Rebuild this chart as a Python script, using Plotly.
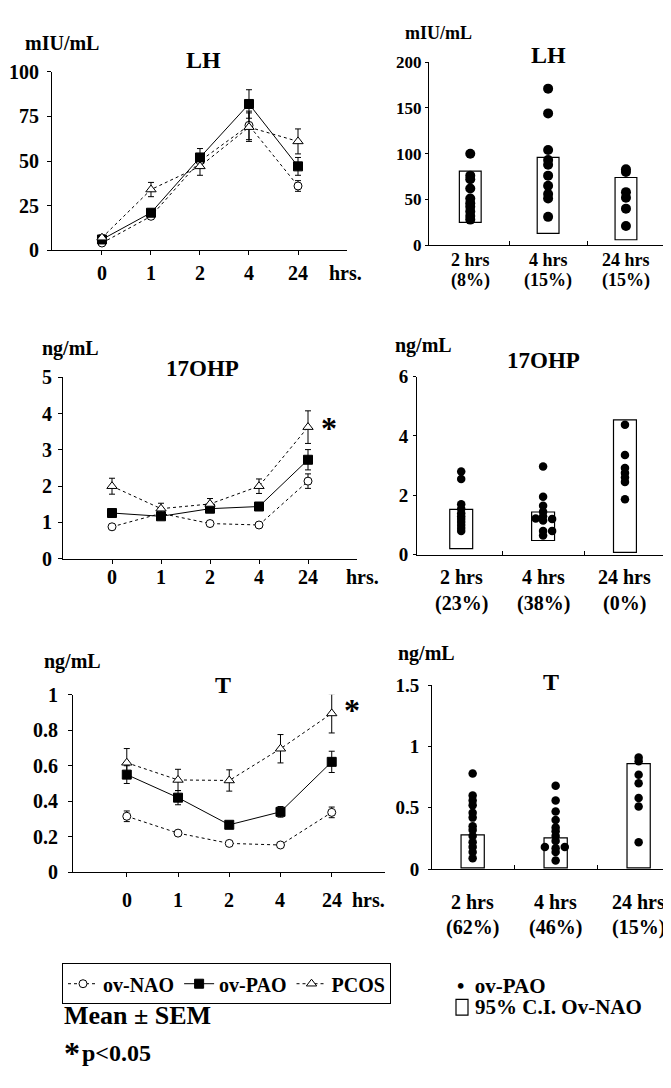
import plotly.graph_objects as go

# page is 671x1088; the html body keeps a default 8px margin, so the figure
# itself is drawn slightly smaller and all layout pixels are offset by 8
PAGE_OFF = 8
W, H = 663, 1072
FONT = "Liberation Serif"

# ---------------- data ----------------
times = ["0", "1", "2", "4", "24"]
groups = ["ov-NAO", "ov-PAO", "PCOS"]

lh_nao = [4, 19, 50, 70, 36]
lh_nao_sem = [1, 1.5, 4, 8, 3]
lh_pao = [6, 21, 52, 82, 47]
lh_pao_sem = [1.5, 2, 5, 8, 5]
lh_pcos = [7, 34, 47, 69, 61]
lh_pcos_sem = [1.5, 4, 5, 8, 7]

ohp_nao = [0.88, 1.25, 0.97, 0.93, 2.14]
ohp_nao_sem = [0.05, 0.08, 0.05, 0.05, 0.2]
ohp_pao = [1.26, 1.17, 1.38, 1.44, 2.73]
ohp_pao_sem = [0.08, 0.08, 0.08, 0.1, 0.28]
ohp_pcos = [2.0, 1.38, 1.51, 2.0, 3.63]
ohp_pcos_sem = [0.22, 0.15, 0.15, 0.2, 0.45]

t_nao = [0.315, 0.22, 0.162, 0.153, 0.337]
t_nao_sem = [0.03, 0.01, 0.01, 0.01, 0.03]
t_pao = [0.55, 0.42, 0.267, 0.34, 0.622]
t_pao_sem = [0.05, 0.04, 0.015, 0.03, 0.06]
t_pcos = [0.617, 0.52, 0.517, 0.696, 0.895]
t_pcos_sem = [0.08, 0.06, 0.06, 0.08, 0.11]

windows = ["2 hrs", "4 hrs", "24 hrs"]
lh_pct = ["(8%)", "(15%)", "(15%)"]
ohp_pct = ["(23%)", "(38%)", "(0%)"]
t_pct = ["(62%)", "(46%)", "(15%)"]

lh_ci_low = [25, 13, 6]
lh_ci_high = [81, 96, 74]
ohp_ci_low = [0.21, 0.48, 0.08]
ohp_ci_high = [1.53, 1.44, 4.54]
t_ci_low = [0.01, 0.01, 0.01]
t_ci_high = [0.28, 0.255, 0.86]

lh_pao_2h = [100, 76, 72, 62, 51, 46, 42, 37, 32, 28]
lh_pao_4h = [171, 144, 104, 93, 88, 76, 65, 56, 51, 31]
lh_pao_24h = [83, 80, 58, 52, 40, 21]
ohp_pao_2h = [2.8, 2.55, 1.7, 1.55, 1.4, 1.3, 1.2, 1.1, 1.0, 0.9, 0.8]
ohp_pao_4h = [2.97, 1.95, 1.65, 1.45, 1.3, 1.22, 1.15, 1.2, 0.8, 0.8, 0.65]
ohp_pao_24h = [4.38, 3.36, 2.92, 2.75, 2.6, 2.45, 1.87]
t_pao_2h = [0.78, 0.6, 0.56, 0.52, 0.46, 0.42, 0.35, 0.32, 0.27, 0.22, 0.18, 0.14, 0.09]
t_pao_4h = [0.68, 0.56, 0.47, 0.40, 0.34, 0.31, 0.27, 0.23, 0.18, 0.18, 0.17, 0.14, 0.07]
t_pao_24h = [0.91, 0.88, 0.77, 0.70, 0.58, 0.51, 0.22]

# small horizontal spread for overlapping dots (style only)
ohp_4h_spread = [0, 0, 0, 0, 0, -0.09, 0, 0.11, 0, 0.11, 0]
t_4h_spread = [0, 0, 0, 0, 0, 0, 0, 0, -0.13, 0.11, 0, 0, 0]


# ---------------- helpers ----------------
def fx(p):
    return (p - PAGE_OFF) / W


def fy(p):
    return 1 - (p - PAGE_OFF) / H


def tfont(size, weight="bold"):
    return dict(family=FONT, size=size, color="black", weight=weight)


fig = go.Figure()

styles = {
    "ov-NAO": dict(line=dict(color="black", width=1, dash="dot"),
                   marker=dict(symbol="circle", size=8, color="white",
                               line=dict(color="black", width=1))),
    "ov-PAO": dict(line=dict(color="black", width=1),
                   marker=dict(symbol="square", size=9, color="black",
                               line=dict(color="black", width=1))),
    "PCOS": dict(line=dict(color="black", width=1, dash="dot"),
                 marker=dict(symbol="triangle-up", size=9, color="white",
                             line=dict(color="black", width=1))),
}


def add_time_course(ax, series, show):
    xa = "x" if ax == 1 else f"x{ax}"
    ya = "y" if ax == 1 else f"y{ax}"
    for name, vals, sem in series:
        st = styles[name]
        fig.add_trace(go.Scatter(
            x=list(range(len(times))), y=vals, name=name, mode="lines+markers",
            line=st["line"], marker=st["marker"],
            error_y=dict(type="data", array=sem, color="black", thickness=1, width=3),
            xaxis=xa, yaxis=ya, showlegend=show,
        ))


def add_scatter_panel(ax, lows, highs, dots, spreads, dot_size):
    xa = f"x{ax}"
    ya = f"y{ax}"
    fig.add_trace(go.Bar(
        x=list(range(len(windows))), y=[h - l for l, h in zip(lows, highs)], base=lows,
        width=0.28, marker=dict(color="white", line=dict(color="black", width=1.2)),
        xaxis=xa, yaxis=ya, showlegend=False,
    ))
    for i, vals in enumerate(dots):
        sp = spreads[i] if spreads[i] is not None else [0] * len(vals)
        fig.add_trace(go.Scatter(
            x=[i + s for s in sp], y=vals, mode="markers",
            marker=dict(color="black", size=dot_size),
            xaxis=xa, yaxis=ya, showlegend=False,
        ))


add_time_course(1, [("ov-NAO", lh_nao, lh_nao_sem), ("ov-PAO", lh_pao, lh_pao_sem),
                    ("PCOS", lh_pcos, lh_pcos_sem)], True)
add_time_course(3, [("ov-NAO", ohp_nao, ohp_nao_sem), ("ov-PAO", ohp_pao, ohp_pao_sem),
                    ("PCOS", ohp_pcos, ohp_pcos_sem)], False)
add_time_course(5, [("ov-NAO", t_nao, t_nao_sem), ("ov-PAO", t_pao, t_pao_sem),
                    ("PCOS", t_pcos, t_pcos_sem)], False)

add_scatter_panel(2, lh_ci_low, lh_ci_high, [lh_pao_2h, lh_pao_4h, lh_pao_24h],
                  [None, None, None], 10)
add_scatter_panel(4, ohp_ci_low, ohp_ci_high, [ohp_pao_2h, ohp_pao_4h, ohp_pao_24h],
                  [None, ohp_4h_spread, None], 8.5)
add_scatter_panel(6, t_ci_low, t_ci_high, [t_pao_2h, t_pao_4h, t_pao_24h],
                  [None, t_4h_spread, None], 8.5)

# ---------------- axes ----------------
layout = {}
ann = []


def text(x, y, s, size, xanchor="center", yanchor="middle"):
    ann.append(dict(x=fx(x), y=fy(y), xref="paper", yref="paper", text=s,
                    showarrow=False, font=tfont(size), xanchor=xanchor, yanchor=yanchor))


def cat_labels(xref, labels, y, size):
    for i, lab in enumerate(labels):
        ann.append(dict(x=i, y=fy(y), xref=xref, yref="paper", text=lab,
                        showarrow=False, font=tfont(size),
                        xanchor="center", yanchor="middle"))


def left_axes(n, box, xr, yr, dtick, ystand, label_y):
    x0, x1, y0, y1 = box
    xn = "xaxis" if n == 1 else f"xaxis{n}"
    yn = "yaxis" if n == 1 else f"yaxis{n}"
    yref = "y" if n == 1 else f"y{n}"
    xref = "x" if n == 1 else f"x{n}"
    layout[xn] = dict(domain=[fx(x0), fx(x1)], range=xr, anchor=yref,
                      tickmode="array", tickvals=list(range(len(times))),
                      showticklabels=False,
                      ticks="outside", ticklen=4, tickcolor="black", tickwidth=1,
                      showline=True, linecolor="black", linewidth=1,
                      showgrid=False, zeroline=False)
    layout[yn] = dict(domain=[fy(y1), fy(y0)], range=yr, anchor=xref,
                      dtick=dtick, tick0=0, ticks="outside", ticklen=4, tickcolor="black",
                      showline=True, linecolor="black", linewidth=1,
                      showgrid=False, zeroline=False, tickfont=tfont(20),
                      ticklabelstandoff=ystand)
    cat_labels(xref, times, label_y, 20)


def right_axes(n, box, xr, yr, dtick, ystand, yfont, label_y, pct, pct_y, lfont):
    x0, x1, y0, y1 = box
    layout[f"xaxis{n}"] = dict(domain=[fx(x0), fx(x1)], range=xr, anchor=f"y{n}",
                               tickmode="array", tickvals=[0.5, 1.5, 2.5],
                               showticklabels=False,
                               ticks="inside", ticklen=4, tickcolor="black",
                               showline=True, linecolor="black", linewidth=1,
                               showgrid=False, zeroline=False)
    layout[f"yaxis{n}"] = dict(domain=[fy(y1), fy(y0)], range=yr, anchor=f"x{n}",
                               dtick=dtick, tick0=0, ticks="outside", ticklen=3,
                               tickcolor="black",
                               showline=True, linecolor="black", linewidth=1,
                               showgrid=False, zeroline=False, tickfont=tfont(yfont),
                               ticklabelstandoff=ystand)
    cat_labels(f"x{n}", windows, label_y, lfont)
    cat_labels(f"x{n}", pct, pct_y, lfont)


left_axes(1, (52, 347, 62, 244), [-1.02, 5.0], [0, 100], 25, 4, 267)
left_axes(3, (63, 357, 374, 559), [-1.0, 5.0], [0, 5], 1, 2, 578)
left_axes(5, (73, 385, 698, 879), [-1.05, 5.04], [0, 1], 0.2, 6, 907)

right_axes(2, (429, 668, 52, 239), [-0.53, 2.54], [0, 200], 50, 0, 17, 254, lh_pct, 275, 18)
right_axes(4, (417, 670, 373, 555), [-0.54, 2.55], [0, 6], 2, 1, 19, 578, ohp_pct, 605, 20)
right_axes(6, (432, 671, 688, 876), [-0.49, 2.39], [0, 1.5], 0.5, 5, 19, 910, t_pct, 936, 20)

# ---------------- other text ----------------
text(23, 33, "mIU/mL", 20, "left")
text(203, 50, "LH", 24)
text(403, 22, "mIU/mL", 18, "left")
text(548, 45, "LH", 24)
text(40, 344, "ng/mL", 20, "left")
text(202, 365, "17OHP", 23)
text(393, 341, "ng/mL", 20, "left")
text(543, 357, "17OHP", 23)
text(42, 664, "ng/mL", 20, "left")
text(223, 688, "T", 24)
text(396, 656, "ng/mL", 20, "left")
text(551, 685, "T", 24)

# "hrs." labels
text(345, 267, "hrs.", 20)
text(362, 578, "hrs.", 20)
text(368, 907, "hrs.", 20)

# significance asterisks
text(329, 426, "*", 32)
text(352, 713, "*", 32)

# notes
text(62, 1025, "Mean ± SEM", 26, "left")
text(62, 1043, "*", 32, "left", "top")
text(80, 1064, "p&lt;0.05", 24, "left")

# right legend
text(455, 995, "•  ov-PAO", 21, "left")
text(473, 1017, "95% C.I. Ov-NAO", 21, "left")

shapes = [dict(type="rect", xref="paper", yref="paper",
               x0=fx(456), x1=fx(468), y0=fy(1025), y1=fy(1009),
               line=dict(color="black", width=1.2), fillcolor="white")]

fig.update_layout(
    width=W, height=H, margin=dict(l=0, r=0, t=0, b=0),
    paper_bgcolor="white", plot_bgcolor="white",
    showlegend=True,
    legend=dict(orientation="h", x=fx(62), y=fy(972), xanchor="left", yanchor="top",
                bordercolor="black", borderwidth=1, bgcolor="white",
                font=tfont(20), itemwidth=30, tracegroupgap=0),
    annotations=ann, shapes=shapes, barmode="overlay",
    **layout,
)

fig.write_html("out.html")
